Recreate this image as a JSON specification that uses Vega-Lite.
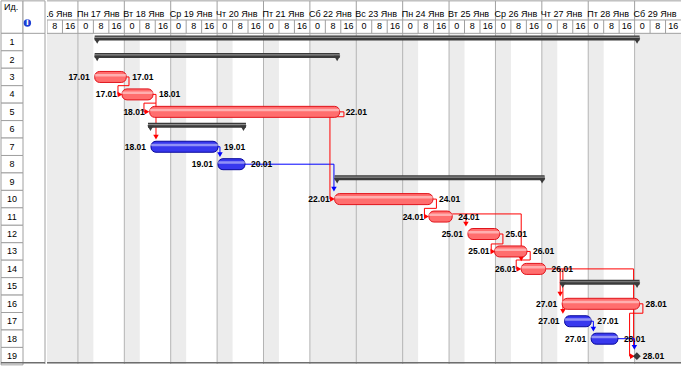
{
 "$schema": "https://vega.github.io/schema/vega-lite/v6.json",
 "padding": 0,
 "spacing": 0,
 "background": "white",
 "config": {"view": {"stroke": null}},
 "datasets": {
  "rows": [{"id":1},{"id":2},{"id":3},{"id":4},{"id":5},{"id":6},{"id":7},{"id":8},{"id":9},{"id":10},{"id":11},{"id":12},{"id":13},{"id":14},{"id":15},{"id":16},{"id":17},{"id":18},{"id":19}],
  "tasks": [
   {"id":1,"type":"summary","s":"2011-01-17T08:40","e":"2011-01-29T02:34"},
   {"id":2,"type":"summary","s":"2011-01-17T08:40","e":"2011-01-22T15:24"},
   {"id":3,"type":"critical","s":"2011-01-17T08:40","e":"2011-01-18T01:01","sl":"17.01","el":"17.01"},
   {"id":4,"type":"critical","s":"2011-01-17T22:48","e":"2011-01-18T14:50","sl":"17.01","el":"18.01"},
   {"id":5,"type":"critical","s":"2011-01-18T13:07","e":"2011-01-22T15:24","sl":"18.01","el":"22.01"},
   {"id":6,"type":"summary","s":"2011-01-18T12:15","e":"2011-01-20T14:56"},
   {"id":7,"type":"normal","s":"2011-01-18T13:48","e":"2011-01-20T00:27","sl":"18.01","el":"19.01"},
   {"id":8,"type":"normal","s":"2011-01-20T00:27","e":"2011-01-20T14:25","sl":"19.01","el":"20.01"},
   {"id":9,"type":"summary","s":"2011-01-22T12:49","e":"2011-01-27T01:26"},
   {"id":10,"type":"critical","s":"2011-01-22T12:49","e":"2011-01-24T15:39","sl":"22.01","el":"24.01"},
   {"id":11,"type":"critical","s":"2011-01-24T13:35","e":"2011-01-25T01:38","sl":"24.01","el":"24.01"},
   {"id":12,"type":"critical","s":"2011-01-25T09:46","e":"2011-01-26T02:09","sl":"25.01","el":"25.01"},
   {"id":13,"type":"critical","s":"2011-01-25T23:34","e":"2011-01-26T16:17","sl":"25.01","el":"26.01"},
   {"id":14,"type":"critical","s":"2011-01-26T13:20","e":"2011-01-27T01:57","sl":"26.01","el":"26.01"},
   {"id":15,"type":"summary","s":"2011-01-27T09:30","e":"2011-01-29T02:34"},
   {"id":16,"type":"critical","s":"2011-01-27T10:32","e":"2011-01-29T02:34","sl":"27.01","el":"28.01"},
   {"id":17,"type":"normal","s":"2011-01-27T11:47","e":"2011-01-28T01:32","sl":"27.01","el":"27.01"},
   {"id":18,"type":"normal","s":"2011-01-28T01:32","e":"2011-01-28T15:21","sl":"27.01","el":"28.01"},
   {"id":19,"type":"milestone","s":"2011-01-29T01:10","e":"2011-01-29T01:10","el":"28.01"}
  ],
  "days": [
   {"d":"2011-01-16T00:00","label":"Вс 16 Янв"},
   {"d":"2011-01-17T00:00","label":"Пн 17 Янв"},
   {"d":"2011-01-18T00:00","label":"Вт 18 Янв"},
   {"d":"2011-01-19T00:00","label":"Ср 19 Янв"},
   {"d":"2011-01-20T00:00","label":"Чт 20 Янв"},
   {"d":"2011-01-21T00:00","label":"Пт 21 Янв"},
   {"d":"2011-01-22T00:00","label":"Сб 22 Янв"},
   {"d":"2011-01-23T00:00","label":"Вс 23 Янв"},
   {"d":"2011-01-24T00:00","label":"Пн 24 Янв"},
   {"d":"2011-01-25T00:00","label":"Вт 25 Янв"},
   {"d":"2011-01-26T00:00","label":"Ср 26 Янв"},
   {"d":"2011-01-27T00:00","label":"Чт 27 Янв"},
   {"d":"2011-01-28T00:00","label":"Пт 28 Янв"},
   {"d":"2011-01-29T00:00","label":"Сб 29 Янв"}
  ],
  "shifts": [
   {"t":"2011-01-16T08:00"},{"t":"2011-01-16T16:00"},
   {"t":"2011-01-17T00:00"},{"t":"2011-01-17T08:00"},{"t":"2011-01-17T16:00"},
   {"t":"2011-01-18T00:00"},{"t":"2011-01-18T08:00"},{"t":"2011-01-18T16:00"},
   {"t":"2011-01-19T00:00"},{"t":"2011-01-19T08:00"},{"t":"2011-01-19T16:00"},
   {"t":"2011-01-20T00:00"},{"t":"2011-01-20T08:00"},{"t":"2011-01-20T16:00"},
   {"t":"2011-01-21T00:00"},{"t":"2011-01-21T08:00"},{"t":"2011-01-21T16:00"},
   {"t":"2011-01-22T00:00"},{"t":"2011-01-22T08:00"},{"t":"2011-01-22T16:00"},
   {"t":"2011-01-23T00:00"},{"t":"2011-01-23T08:00"},{"t":"2011-01-23T16:00"},
   {"t":"2011-01-24T00:00"},{"t":"2011-01-24T08:00"},{"t":"2011-01-24T16:00"},
   {"t":"2011-01-25T00:00"},{"t":"2011-01-25T08:00"},{"t":"2011-01-25T16:00"},
   {"t":"2011-01-26T00:00"},{"t":"2011-01-26T08:00"},{"t":"2011-01-26T16:00"},
   {"t":"2011-01-27T00:00"},{"t":"2011-01-27T08:00"},{"t":"2011-01-27T16:00"},
   {"t":"2011-01-28T00:00"},{"t":"2011-01-28T08:00"},{"t":"2011-01-28T16:00"},
   {"t":"2011-01-29T00:00"},{"t":"2011-01-29T08:00"},{"t":"2011-01-29T16:00"}
  ],
  "off": [
   {"s":"2011-01-16T08:00","e":"2011-01-17T08:00"},
   {"s":"2011-01-18T00:00","e":"2011-01-18T08:00"},
   {"s":"2011-01-19T00:00","e":"2011-01-19T08:00"},
   {"s":"2011-01-20T00:00","e":"2011-01-20T08:00"},
   {"s":"2011-01-21T00:00","e":"2011-01-21T08:00"},
   {"s":"2011-01-22T00:00","e":"2011-01-24T08:00"},
   {"s":"2011-01-25T00:00","e":"2011-01-25T08:00"},
   {"s":"2011-01-26T00:00","e":"2011-01-26T08:00"},
   {"s":"2011-01-27T00:00","e":"2011-01-27T08:00"},
   {"s":"2011-01-28T00:00","e":"2011-01-28T08:00"},
   {"s":"2011-01-29T00:00","e":"2011-01-30T00:00"}
  ],
  "links": [
   {"link":"3-4","c":"critical","i":0,"t":"2011-01-18T01:01","r":3},
   {"link":"3-4","c":"critical","i":1,"t":"2011-01-18T02:25","r":3},
   {"link":"3-4","c":"critical","i":2,"t":"2011-01-18T02:25","r":3.5},
   {"link":"3-4","c":"critical","i":3,"t":"2011-01-17T20:43","r":3.5},
   {"link":"3-4","c":"critical","i":4,"t":"2011-01-17T20:43","r":4},
   {"link":"3-4","c":"critical","i":5,"t":"2011-01-17T21:30","r":4},
   {"link":"4-5","c":"critical","i":0,"t":"2011-01-18T14:50","r":4},
   {"link":"4-5","c":"critical","i":1,"t":"2011-01-18T16:23","r":4},
   {"link":"4-5","c":"critical","i":2,"t":"2011-01-18T16:23","r":4.5},
   {"link":"4-5","c":"critical","i":3,"t":"2011-01-18T10:10","r":4.5},
   {"link":"4-5","c":"critical","i":4,"t":"2011-01-18T10:10","r":5},
   {"link":"4-5","c":"critical","i":5,"t":"2011-01-18T10:41","r":5},
   {"link":"4-7","c":"critical","i":0,"t":"2011-01-18T16:23","r":4.5},
   {"link":"4-7","c":"critical","i":1,"t":"2011-01-18T16:23","r":6.4},
   {"link":"7-8","c":"normal","i":0,"t":"2011-01-20T00:27","r":7},
   {"link":"7-8","c":"normal","i":1,"t":"2011-01-20T01:29","r":7},
   {"link":"7-8","c":"normal","i":2,"t":"2011-01-20T01:29","r":7.4},
   {"link":"8-10","c":"normal","i":0,"t":"2011-01-20T14:25","r":8},
   {"link":"8-10","c":"normal","i":1,"t":"2011-01-22T12:27","r":8},
   {"link":"8-10","c":"normal","i":2,"t":"2011-01-22T12:27","r":9.4},
   {"link":"5-10","c":"critical","i":0,"t":"2011-01-22T15:24","r":5},
   {"link":"5-10","c":"critical","i":1,"t":"2011-01-22T17:37","r":5},
   {"link":"5-10","c":"critical","i":2,"t":"2011-01-22T17:37","r":5.28},
   {"link":"5-10","c":"critical","i":3,"t":"2011-01-22T10:23","r":5.28},
   {"link":"5-10","c":"critical","i":4,"t":"2011-01-22T10:23","r":10},
   {"link":"5-10","c":"critical","i":5,"t":"2011-01-22T10:54","r":10},
   {"link":"10-11","c":"critical","i":0,"t":"2011-01-24T15:39","r":10},
   {"link":"10-11","c":"critical","i":1,"t":"2011-01-24T17:28","r":10},
   {"link":"10-11","c":"critical","i":2,"t":"2011-01-24T17:28","r":10.53},
   {"link":"10-11","c":"critical","i":3,"t":"2011-01-24T11:16","r":10.53},
   {"link":"10-11","c":"critical","i":4,"t":"2011-01-24T11:16","r":11},
   {"link":"10-11","c":"critical","i":5,"t":"2011-01-24T11:31","r":11},
   {"link":"11-12","c":"critical","i":0,"t":"2011-01-25T01:38","r":10.85},
   {"link":"11-12","c":"critical","i":1,"t":"2011-01-25T08:44","r":10.85},
   {"link":"11-12","c":"critical","i":2,"t":"2011-01-25T08:44","r":11.4},
   {"link":"11-14","c":"critical","i":0,"t":"2011-01-25T08:44","r":10.85},
   {"link":"11-14","c":"critical","i":1,"t":"2011-01-26T13:20","r":10.85},
   {"link":"11-14","c":"critical","i":2,"t":"2011-01-26T13:20","r":13.4},
   {"link":"12-13","c":"critical","i":0,"t":"2011-01-26T02:09","r":12},
   {"link":"12-13","c":"critical","i":1,"t":"2011-01-26T03:52","r":12},
   {"link":"12-13","c":"critical","i":2,"t":"2011-01-26T03:52","r":12.57},
   {"link":"12-13","c":"critical","i":3,"t":"2011-01-25T21:49","r":12.57},
   {"link":"12-13","c":"critical","i":4,"t":"2011-01-25T21:49","r":13},
   {"link":"12-13","c":"critical","i":5,"t":"2011-01-25T22:10","r":13},
   {"link":"13-14","c":"critical","i":0,"t":"2011-01-26T16:17","r":13},
   {"link":"13-14","c":"critical","i":1,"t":"2011-01-26T17:59","r":13},
   {"link":"13-14","c":"critical","i":2,"t":"2011-01-26T17:59","r":13.49},
   {"link":"13-14","c":"critical","i":3,"t":"2011-01-26T10:45","r":13.49},
   {"link":"13-14","c":"critical","i":4,"t":"2011-01-26T10:45","r":14},
   {"link":"13-14","c":"critical","i":5,"t":"2011-01-26T11:06","r":14},
   {"link":"14-16","c":"critical","i":0,"t":"2011-01-27T01:57","r":14},
   {"link":"14-16","c":"critical","i":1,"t":"2011-01-27T09:30","r":14},
   {"link":"14-16","c":"critical","i":2,"t":"2011-01-27T09:30","r":15.4},
   {"link":"14-17","c":"critical","i":0,"t":"2011-01-27T09:30","r":14},
   {"link":"14-17","c":"critical","i":1,"t":"2011-01-27T10:54","r":14},
   {"link":"14-17","c":"critical","i":2,"t":"2011-01-27T10:54","r":16.4},
   {"link":"14-19","c":"critical","i":0,"t":"2011-01-27T10:54","r":14},
   {"link":"14-19","c":"critical","i":1,"t":"2011-01-28T23:28","r":14},
   {"link":"14-19","c":"critical","i":2,"t":"2011-01-28T23:28","r":18.5},
   {"link":"16-19","c":"critical","i":0,"t":"2011-01-29T02:34","r":16},
   {"link":"16-19","c":"critical","i":1,"t":"2011-01-29T04:17","r":16},
   {"link":"16-19","c":"critical","i":2,"t":"2011-01-29T04:17","r":16.54},
   {"link":"16-19","c":"critical","i":3,"t":"2011-01-28T21:24","r":16.54},
   {"link":"16-19","c":"critical","i":4,"t":"2011-01-28T21:24","r":19},
   {"link":"16-19","c":"critical","i":5,"t":"2011-01-28T22:04","r":19},
   {"link":"17-18","c":"normal","i":0,"t":"2011-01-28T01:32","r":17},
   {"link":"17-18","c":"normal","i":1,"t":"2011-01-28T02:40","r":17},
   {"link":"17-18","c":"normal","i":2,"t":"2011-01-28T02:40","r":17.4},
   {"link":"18-19","c":"normal","i":0,"t":"2011-01-28T15:21","r":18},
   {"link":"18-19","c":"normal","i":1,"t":"2011-01-28T23:53","r":18},
   {"link":"18-19","c":"normal","i":2,"t":"2011-01-28T23:53","r":18.42}
  ],
  "arrows": [
   {"t":"2011-01-17T21:45","r":4,"dir":"right","c":"critical"},
   {"t":"2011-01-18T11:43","r":5,"dir":"right","c":"critical"},
   {"t":"2011-01-18T16:23","r":6.45,"dir":"down","c":"critical"},
   {"t":"2011-01-20T01:29","r":7.45,"dir":"down","c":"normal"},
   {"t":"2011-01-22T12:27","r":9.43,"dir":"down","c":"normal"},
   {"t":"2011-01-22T11:40","r":10,"dir":"right","c":"critical"},
   {"t":"2011-01-24T12:18","r":11,"dir":"right","c":"critical"},
   {"t":"2011-01-25T08:44","r":11.43,"dir":"down","c":"critical"},
   {"t":"2011-01-26T13:20","r":13.43,"dir":"down","c":"critical"},
   {"t":"2011-01-25T22:41","r":13,"dir":"right","c":"critical"},
   {"t":"2011-01-26T12:08","r":14,"dir":"right","c":"critical"},
   {"t":"2011-01-27T09:30","r":15.44,"dir":"down","c":"critical"},
   {"t":"2011-01-27T10:54","r":16.43,"dir":"down","c":"critical"},
   {"t":"2011-01-28T22:51","r":19,"dir":"right","c":"critical"},
   {"t":"2011-01-28T02:40","r":17.45,"dir":"down","c":"normal"},
   {"t":"2011-01-28T23:53","r":18.5,"dir":"down","c":"normal"}
  ]
 },
 "hconcat": [
  {
   "width": 44,
   "height": 364,
   "layer": [
    {"data": {"values": [{}]}, "mark": {"type": "rect", "fill": "white", "stroke": "#a0a0a0"},
     "encoding": {"x": {"datum": 0, "type": "quantitative", "scale": {"domain": [0, 2], "nice": false, "zero": false}, "axis": null}, "x2": {"datum": 1},
      "y": {"datum": -1.36, "type": "quantitative", "scale": {"domain": [-1.41, 19.45], "reverse": true, "nice": false, "zero": false}, "axis": null}, "y2": {"datum": 0.5}}},
    {"data": {"values": [{}]}, "mark": {"type": "rect", "fill": "white", "stroke": "#a0a0a0"},
     "encoding": {"x": {"datum": 1, "type": "quantitative", "scale": {"domain": [0, 2], "nice": false, "zero": false}, "axis": null}, "x2": {"datum": 2},
      "y": {"datum": -1.36, "type": "quantitative", "scale": {"domain": [-1.41, 19.45], "reverse": true, "nice": false, "zero": false}, "axis": null}, "y2": {"datum": 0.5}}},
    {"data": {"name": "rows"}, "mark": {"type": "rect", "fill": "white", "stroke": "#a0a0a0", "yOffset": -8.72, "y2Offset": 8.72},
     "encoding": {"x": {"datum": 0, "type": "quantitative", "scale": {"domain": [0, 2], "nice": false, "zero": false}, "axis": null}, "x2": {"datum": 1},
      "y": {"field": "id", "type": "quantitative", "scale": {"domain": [-1.41, 19.45], "reverse": true, "nice": false, "zero": false}, "axis": null}, "y2": {"field": "id"}}},
    {"data": {"values": [{}]}, "mark": {"type": "rule", "color": "#a0a0a0"},
     "encoding": {"x": {"datum": 2, "type": "quantitative", "scale": {"domain": [0, 2], "nice": false, "zero": false}, "axis": null},
      "y": {"datum": 0.5, "type": "quantitative", "scale": {"domain": [-1.41, 19.45], "reverse": true, "nice": false, "zero": false}, "axis": null}, "y2": {"datum": 19.45}}},
    {"data": {"name": "rows"}, "mark": {"type": "text", "font": "Liberation Sans", "fontSize": 9, "color": "#000000"},
     "encoding": {"x": {"datum": 0.5, "type": "quantitative", "scale": {"domain": [0, 2], "nice": false, "zero": false}, "axis": null},
      "y": {"field": "id", "type": "quantitative", "scale": {"domain": [-1.41, 19.45], "reverse": true, "nice": false, "zero": false}, "axis": null},
      "text": {"field": "id", "type": "nominal"}}},
    {"data": {"values": [{"t": "Ид."}]}, "mark": {"type": "text", "align": "left", "dx": 3, "font": "Liberation Sans", "fontSize": 9, "color": "#000000"},
     "encoding": {"x": {"datum": 0, "type": "quantitative", "scale": {"domain": [0, 2], "nice": false, "zero": false}, "axis": null},
      "y": {"datum": -1.0, "type": "quantitative", "scale": {"domain": [-1.41, 19.45], "reverse": true, "nice": false, "zero": false}, "axis": null},
      "text": {"field": "t"}}},
    {"data": {"values": [{}]}, "mark": {"type": "point", "shape": "circle", "filled": true, "color": "#1d3fd4", "size": 55, "opacity": 1},
     "encoding": {"x": {"datum": 1.2, "type": "quantitative", "scale": {"domain": [0, 2], "nice": false, "zero": false}, "axis": null},
      "y": {"datum": -0.09, "type": "quantitative", "scale": {"domain": [-1.41, 19.45], "reverse": true, "nice": false, "zero": false}, "axis": null}}},
    {"data": {"values": [{"t": "i"}]}, "mark": {"type": "text", "font": "DejaVu Sans", "fontWeight": "bold", "fontSize": 8, "color": "white"},
     "encoding": {"x": {"datum": 1.2, "type": "quantitative", "scale": {"domain": [0, 2], "nice": false, "zero": false}, "axis": null},
      "y": {"datum": -0.09, "type": "quantitative", "scale": {"domain": [-1.41, 19.45], "reverse": true, "nice": false, "zero": false}, "axis": null},
      "text": {"field": "t"}}},
    {"data": {"values": [{}]}, "mark": {"type": "rule", "color": "#6e6e6e", "strokeWidth": 1.5},
     "encoding": {"y": {"datum": 19.38, "type": "quantitative", "scale": {"domain": [-1.41, 19.45], "reverse": true, "nice": false, "zero": false}, "axis": null}}}
   ]
  },
  {
   "width": 634,
   "height": 364,
   "layer": [
    {"data": {"name": "off", "format": {"parse": {"s": "date", "e": "date"}}}, "mark": {"type": "rect", "color": "#ececec"},
     "encoding": {"x": {"field": "s", "type": "temporal", "scale": {"domain": [{"year": 2011, "month": 1, "date": 16, "hours": 8}, {"year": 2011, "month": 1, "date": 30}], "nice": false}, "axis": null}, "x2": {"field": "e"},
      "y": {"datum": 0.5, "type": "quantitative", "scale": {"domain": [-1.41, 19.45], "reverse": true, "nice": false, "zero": false}, "axis": null}, "y2": {"datum": 19.45}}},
    {"data": {"name": "days", "format": {"parse": {"d": "date"}}}, "mark": {"type": "rule", "color": "#b4b4b4", "clip": true},
     "encoding": {"x": {"field": "d", "type": "temporal", "scale": {"domain": [{"year": 2011, "month": 1, "date": 16, "hours": 8}, {"year": 2011, "month": 1, "date": 30}], "nice": false}, "axis": null},
      "y": {"datum": 0.5, "type": "quantitative", "scale": {"domain": [-1.41, 19.45], "reverse": true, "nice": false, "zero": false}, "axis": null}, "y2": {"datum": 19.45}}},
    {"data": {"name": "days", "format": {"parse": {"d": "date"}}}, "mark": {"type": "rule", "color": "#a0a0a0", "clip": true},
     "encoding": {"x": {"field": "d", "type": "temporal", "scale": {"domain": [{"year": 2011, "month": 1, "date": 16, "hours": 8}, {"year": 2011, "month": 1, "date": 30}], "nice": false}, "axis": null},
      "y": {"datum": -1.36, "type": "quantitative", "scale": {"domain": [-1.41, 19.45], "reverse": true, "nice": false, "zero": false}, "axis": null}, "y2": {"datum": -0.264}}},
    {"data": {"name": "shifts", "format": {"parse": {"t": "date"}}}, "mark": {"type": "rule", "color": "#a0a0a0", "clip": true},
     "encoding": {"x": {"field": "t", "type": "temporal", "scale": {"domain": [{"year": 2011, "month": 1, "date": 16, "hours": 8}, {"year": 2011, "month": 1, "date": 30}], "nice": false}, "axis": null},
      "y": {"datum": -0.264, "type": "quantitative", "scale": {"domain": [-1.41, 19.45], "reverse": true, "nice": false, "zero": false}, "axis": null}, "y2": {"datum": 0.5}}},
    {"data": {"values": [{}]}, "mark": {"type": "rule", "color": "#a0a0a0"},
     "encoding": {"y": {"datum": -1.36, "type": "quantitative", "scale": {"domain": [-1.41, 19.45], "reverse": true, "nice": false, "zero": false}, "axis": null}}},
    {"data": {"values": [{}]}, "mark": {"type": "rule", "color": "#a0a0a0"},
     "encoding": {"y": {"datum": -0.264, "type": "quantitative", "scale": {"domain": [-1.41, 19.45], "reverse": true, "nice": false, "zero": false}, "axis": null}}},
    {"data": {"values": [{}]}, "mark": {"type": "rule", "color": "#a0a0a0"},
     "encoding": {"y": {"datum": 0.5, "type": "quantitative", "scale": {"domain": [-1.41, 19.45], "reverse": true, "nice": false, "zero": false}, "axis": null}}},
    {"data": {"name": "days", "format": {"parse": {"d": "date"}}}, "mark": {"type": "text", "align": "left", "dx": -1, "font": "Liberation Sans Narrow, Liberation Sans, sans-serif", "fontSize": 9, "color": "#000000", "clip": true},
     "encoding": {"x": {"field": "d", "type": "temporal", "scale": {"domain": [{"year": 2011, "month": 1, "date": 16, "hours": 8}, {"year": 2011, "month": 1, "date": 30}], "nice": false}, "axis": null},
      "y": {"datum": -0.58, "type": "quantitative", "scale": {"domain": [-1.41, 19.45], "reverse": true, "nice": false, "zero": false}, "axis": null},
      "text": {"field": "label"}}},
    {"data": {"name": "shifts", "format": {"parse": {"t": "date"}}}, "mark": {"type": "text", "align": "center", "dx": 7.7, "font": "Liberation Sans Narrow, Liberation Sans, sans-serif", "fontSize": 9, "color": "#000000"},
     "encoding": {"x": {"field": "t", "type": "temporal", "scale": {"domain": [{"year": 2011, "month": 1, "date": 16, "hours": 8}, {"year": 2011, "month": 1, "date": 30}], "nice": false}, "axis": null},
      "y": {"datum": 0.08, "type": "quantitative", "scale": {"domain": [-1.41, 19.45], "reverse": true, "nice": false, "zero": false}, "axis": null},
      "text": {"field": "t", "type": "temporal", "format": "%-H"}}},
    {"data": {"name": "links", "format": {"parse": {"t": "date"}}}, "mark": {"type": "line", "strokeWidth": 1, "interpolate": "linear"},
     "encoding": {"x": {"field": "t", "type": "temporal", "scale": {"domain": [{"year": 2011, "month": 1, "date": 16, "hours": 8}, {"year": 2011, "month": 1, "date": 30}], "nice": false}, "axis": null},
      "y": {"field": "r", "type": "quantitative", "scale": {"domain": [-1.41, 19.45], "reverse": true, "nice": false, "zero": false}, "axis": null},
      "detail": {"field": "link"}, "order": {"field": "i"},
      "color": {"field": "c", "type": "nominal", "scale": {"domain": ["critical", "normal"], "range": ["#ff0000", "#0000ff"]}, "legend": null}}},
    {"data": {"name": "arrows", "format": {"parse": {"t": "date"}}}, "mark": {"type": "point", "filled": true, "size": 30, "opacity": 1},
     "encoding": {"x": {"field": "t", "type": "temporal", "scale": {"domain": [{"year": 2011, "month": 1, "date": 16, "hours": 8}, {"year": 2011, "month": 1, "date": 30}], "nice": false}, "axis": null},
      "y": {"field": "r", "type": "quantitative", "scale": {"domain": [-1.41, 19.45], "reverse": true, "nice": false, "zero": false}, "axis": null},
      "shape": {"field": "dir", "type": "nominal", "scale": {"domain": ["right", "down"], "range": ["triangle-right", "triangle-down"]}, "legend": null},
      "color": {"field": "c", "type": "nominal", "scale": {"domain": ["critical", "normal"], "range": ["#ff0000", "#0000ff"]}, "legend": null}}},
    {"data": {"name": "tasks", "format": {"parse": {"s": "date", "e": "date"}}}, "transform": [{"filter": "datum.type === 'summary'"}],
     "mark": {"type": "rect", "yOffset": -6.5, "y2Offset": -1.5, "color": "#3a3a3a"},
     "encoding": {"x": {"field": "s", "type": "temporal", "scale": {"domain": [{"year": 2011, "month": 1, "date": 16, "hours": 8}, {"year": 2011, "month": 1, "date": 30}], "nice": false}, "axis": null}, "x2": {"field": "e"},
      "y": {"field": "id", "type": "quantitative", "scale": {"domain": [-1.41, 19.45], "reverse": true, "nice": false, "zero": false}, "axis": null}, "y2": {"field": "id"}}},
    {"data": {"name": "tasks", "format": {"parse": {"s": "date", "e": "date"}}}, "transform": [{"filter": "datum.type === 'summary'"}],
     "mark": {"type": "rect", "yOffset": -5.2, "y2Offset": -4, "color": "#8c8c8c"},
     "encoding": {"x": {"field": "s", "type": "temporal", "scale": {"domain": [{"year": 2011, "month": 1, "date": 16, "hours": 8}, {"year": 2011, "month": 1, "date": 30}], "nice": false}, "axis": null}, "x2": {"field": "e"},
      "y": {"field": "id", "type": "quantitative", "scale": {"domain": [-1.41, 19.45], "reverse": true, "nice": false, "zero": false}, "axis": null}, "y2": {"field": "id"}}},
    {"data": {"name": "tasks", "format": {"parse": {"s": "date", "e": "date"}}}, "transform": [{"filter": "datum.type === 'summary'"}],
     "mark": {"type": "point", "shape": "triangle-down", "filled": true, "size": 40, "color": "#3a3a3a", "opacity": 1, "xOffset": 2.5, "yOffset": -1},
     "encoding": {"x": {"field": "s", "type": "temporal", "scale": {"domain": [{"year": 2011, "month": 1, "date": 16, "hours": 8}, {"year": 2011, "month": 1, "date": 30}], "nice": false}, "axis": null},
      "y": {"field": "id", "type": "quantitative", "scale": {"domain": [-1.41, 19.45], "reverse": true, "nice": false, "zero": false}, "axis": null}}},
    {"data": {"name": "tasks", "format": {"parse": {"s": "date", "e": "date"}}}, "transform": [{"filter": "datum.type === 'summary'"}],
     "mark": {"type": "point", "shape": "triangle-down", "filled": true, "size": 40, "color": "#3a3a3a", "opacity": 1, "xOffset": -2.5, "yOffset": -1},
     "encoding": {"x": {"field": "e", "type": "temporal", "scale": {"domain": [{"year": 2011, "month": 1, "date": 16, "hours": 8}, {"year": 2011, "month": 1, "date": 30}], "nice": false}, "axis": null},
      "y": {"field": "id", "type": "quantitative", "scale": {"domain": [-1.41, 19.45], "reverse": true, "nice": false, "zero": false}, "axis": null}}},
    {"data": {"name": "tasks", "format": {"parse": {"s": "date", "e": "date"}}}, "transform": [{"filter": "datum.type === 'critical' || datum.type === 'normal'"}],
     "mark": {"type": "rect", "yOffset": -5.5, "y2Offset": 5.5, "cornerRadius": 5, "strokeWidth": 1},
     "encoding": {"x": {"field": "s", "type": "temporal", "scale": {"domain": [{"year": 2011, "month": 1, "date": 16, "hours": 8}, {"year": 2011, "month": 1, "date": 30}], "nice": false}, "axis": null}, "x2": {"field": "e"},
      "y": {"field": "id", "type": "quantitative", "scale": {"domain": [-1.41, 19.45], "reverse": true, "nice": false, "zero": false}, "axis": null}, "y2": {"field": "id"},
      "fill": {"field": "type", "type": "nominal", "scale": {"domain": ["critical", "normal"], "range": ["#ff6e6e", "#3838ee"]}, "legend": null},
      "stroke": {"field": "type", "type": "nominal", "scale": {"domain": ["critical", "normal"], "range": ["#e0141c", "#08089c"]}, "legend": null}}},
    {"data": {"name": "tasks", "format": {"parse": {"s": "date", "e": "date"}}}, "transform": [{"filter": "datum.type === 'critical' || datum.type === 'normal'"}],
     "mark": {"type": "rect", "yOffset": -3, "y2Offset": -0.5, "cornerRadius": 1, "color": "white", "opacity": 0.45},
     "encoding": {"x": {"field": "s", "type": "temporal", "scale": {"domain": [{"year": 2011, "month": 1, "date": 16, "hours": 8}, {"year": 2011, "month": 1, "date": 30}], "nice": false}, "axis": null}, "x2": {"field": "e"},
      "y": {"field": "id", "type": "quantitative", "scale": {"domain": [-1.41, 19.45], "reverse": true, "nice": false, "zero": false}, "axis": null}, "y2": {"field": "id"}}},
    {"data": {"name": "tasks", "format": {"parse": {"s": "date", "e": "date"}}}, "transform": [{"filter": "datum.type === 'milestone'"}],
     "mark": {"type": "point", "shape": "diamond", "filled": true, "size": 60, "color": "#3a3a3a", "opacity": 1},
     "encoding": {"x": {"field": "s", "type": "temporal", "scale": {"domain": [{"year": 2011, "month": 1, "date": 16, "hours": 8}, {"year": 2011, "month": 1, "date": 30}], "nice": false}, "axis": null},
      "y": {"field": "id", "type": "quantitative", "scale": {"domain": [-1.41, 19.45], "reverse": true, "nice": false, "zero": false}, "axis": null}}},
    {"data": {"name": "tasks", "format": {"parse": {"s": "date", "e": "date"}}}, "transform": [{"filter": "datum.type === 'critical' || datum.type === 'normal'"}],
     "mark": {"type": "text", "align": "right", "dx": -5, "font": "Liberation Sans Narrow, Liberation Sans, sans-serif", "fontWeight": "bold", "fontSize": 8.5, "color": "#000000"},
     "encoding": {"x": {"field": "s", "type": "temporal", "scale": {"domain": [{"year": 2011, "month": 1, "date": 16, "hours": 8}, {"year": 2011, "month": 1, "date": 30}], "nice": false}, "axis": null},
      "y": {"field": "id", "type": "quantitative", "scale": {"domain": [-1.41, 19.45], "reverse": true, "nice": false, "zero": false}, "axis": null},
      "text": {"field": "sl"}}},
    {"data": {"name": "tasks", "format": {"parse": {"s": "date", "e": "date"}}}, "transform": [{"filter": "datum.type !== 'summary'"}],
     "mark": {"type": "text", "align": "left", "dx": 6, "font": "Liberation Sans Narrow, Liberation Sans, sans-serif", "fontWeight": "bold", "fontSize": 8.5, "color": "#000000"},
     "encoding": {"x": {"field": "e", "type": "temporal", "scale": {"domain": [{"year": 2011, "month": 1, "date": 16, "hours": 8}, {"year": 2011, "month": 1, "date": 30}], "nice": false}, "axis": null},
      "y": {"field": "id", "type": "quantitative", "scale": {"domain": [-1.41, 19.45], "reverse": true, "nice": false, "zero": false}, "axis": null},
      "text": {"field": "el"}}},
    {"data": {"values": [{}]}, "mark": {"type": "rule", "color": "#6e6e6e", "strokeWidth": 1.5},
     "encoding": {"y": {"datum": 19.38, "type": "quantitative", "scale": {"domain": [-1.41, 19.45], "reverse": true, "nice": false, "zero": false}, "axis": null}}}
   ]
  }
 ]
}
